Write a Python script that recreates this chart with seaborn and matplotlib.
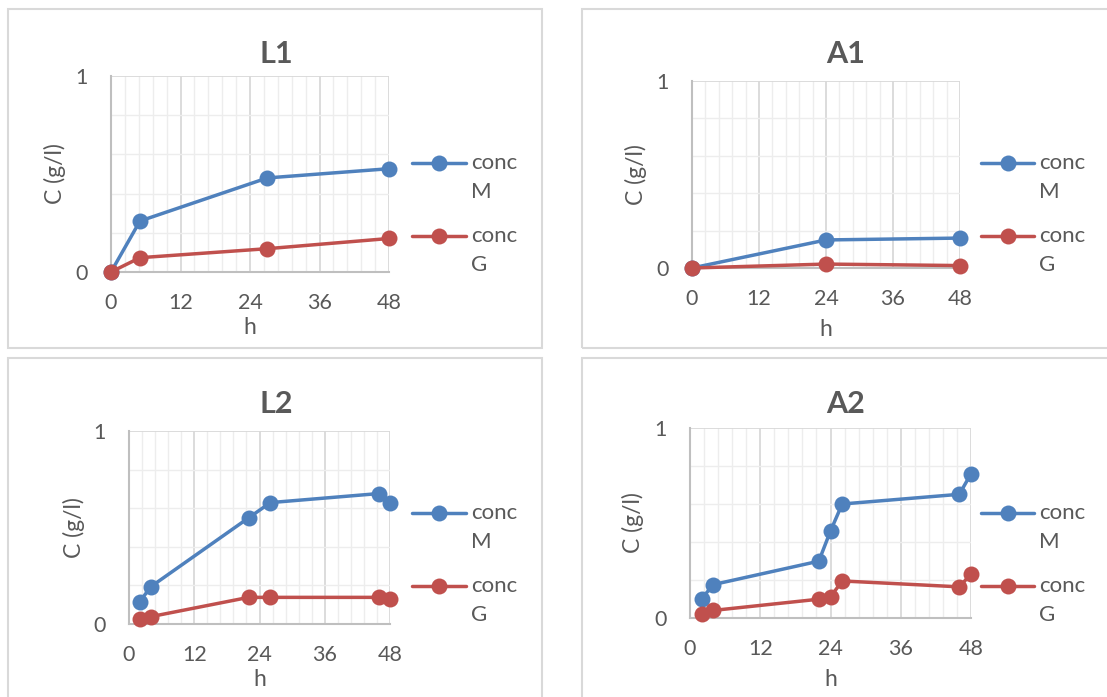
import numpy as np
import pandas as pd
import matplotlib
matplotlib.use("Agg")
import matplotlib.pyplot as plt
from matplotlib.lines import Line2D
from matplotlib.patches import Rectangle
import seaborn as sns

# ---- data ---------------------------------------------------------------
series_names = ["conc M", "conc G"]

l1_h = [0, 5, 27, 48]
l1_m = [0.0, 0.26, 0.48, 0.527]
l1_g = [0.0, 0.073, 0.119, 0.171]

a1_h = [0, 24, 48]
a1_m = [0.0, 0.15, 0.16]
a1_g = [0.0, 0.021, 0.013]

l2_h = [2, 4, 22, 26, 46, 48]
l2_m = [0.116, 0.193, 0.55, 0.629, 0.676, 0.629]
l2_g = [0.024, 0.038, 0.138, 0.138, 0.138, 0.129]

a2_h = [2, 4, 22, 24, 26, 46, 48]
a2_m = [0.102, 0.176, 0.299, 0.458, 0.600, 0.651, 0.759]
a2_g = [0.019, 0.040, 0.099, 0.111, 0.195, 0.164, 0.231]

titles = ["L1", "A1", "L2", "A2"]
x_ticks = [0, 12, 24, 36, 48]
y_ticks = [0, 1]
x_label = "h"
y_label = "C (g/l)"

# ---- style --------------------------------------------------------------
sns.set_style("white")
plt.rcParams["font.family"] = ["Lato", "DejaVu Sans"]

BLUE = "#4F81BD"
RED = "#C0504D"
TEXT = "#595959"
AXIS = "#BFBFBF"
MAJOR_GRID = "#D9D9D9"
MINOR_GRID = "#EDEDED"

TICK_FS = 15.5
LABEL_FS = 16.5
LEGEND_FS = 16
TITLE_FS = 22

W, H = 1107, 697
fig = plt.figure(figsize=(W / 100, H / 100), dpi=100)
fig.patch.set_facecolor("white")


def fx(px):
    return px / W


def fy(py):
    return 1 - py / H


# chart-area frames (left, top, right, bottom in pixels)
frames = [(8, 9, 542, 348), (582, 9, 1120, 348),
          (8, 358, 542, 710), (582, 358, 1120, 710)]
for l, t, r, b in frames:
    fig.add_artist(Rectangle((fx(l), fy(b)), fx(r - l), (b - t) / H,
                             transform=fig.transFigure, fill=False,
                             ec="#D9D9D9", lw=1.5, zorder=0))

panels = [
    dict(h=l1_h, m=l1_m, g=l1_g, box=(111, 389, 76, 272), title_x=276,
         title_y=63, ylab_x=55, xlab_y=328, leg=(412, 466, 471), leg_y=163),
    dict(h=a1_h, m=a1_m, g=a1_g, box=(692, 960, 81, 268), title_x=846,
         title_y=63, ylab_x=636, xlab_y=330, leg=(981, 1034, 1039), leg_y=163),
    dict(h=l2_h, m=l2_m, g=l2_g, box=(129, 390, 431, 624), title_x=276,
         title_y=413, ylab_x=74, xlab_y=680, leg=(412, 466, 471), leg_y=513),
    dict(h=a2_h, m=a2_m, g=a2_g, box=(690, 971, 428, 618), title_x=846,
         title_y=413, ylab_x=633, xlab_y=680, leg=(981, 1034, 1039), leg_y=513),
]

for title, p in zip(titles, panels):
    l, r, t, b = p["box"]
    ax = fig.add_axes([fx(l), fy(b), fx(r - l), (b - t) / H])

    df = pd.DataFrame({
        "h": list(p["h"]) * 2,
        "C": list(p["m"]) + list(p["g"]),
        "series": [series_names[0]] * len(p["h"]) + [series_names[1]] * len(p["h"]),
    })
    sns.lineplot(data=df, x="h", y="C", hue="series", hue_order=series_names,
                 palette=[BLUE, RED], marker="o", markersize=11.5,
                 markeredgewidth=0, linewidth=2.5, estimator=None,
                 legend=False, ax=ax, clip_on=False, zorder=5)

    ax.set_xlim(0, 48)
    ax.set_ylim(0, 1)
    ax.set_xticks(x_ticks)
    ax.set_yticks(y_ticks)
    ax.set_xticks(np.linspace(0, 48, 21), minor=True)
    ax.set_yticks(np.linspace(0, 1, 6), minor=True)
    ax.grid(which="minor", color=MINOR_GRID, lw=1.0, zorder=0)
    ax.grid(which="major", color=MAJOR_GRID, lw=1.3, zorder=0)
    ax.set_axisbelow(True)

    for side in ("top", "right"):
        ax.spines[side].set_visible(False)
    for side in ("left", "bottom"):
        ax.spines[side].set_color(AXIS)
        ax.spines[side].set_linewidth(1.5)

    ax.tick_params(axis="x", which="major", length=8, width=1.5, color=AXIS,
                   labelsize=TICK_FS, labelcolor=TEXT, pad=7)
    ax.tick_params(axis="y", which="major", length=7, width=1.5, color=AXIS,
                   labelsize=TICK_FS, labelcolor=TEXT, pad=10)
    ax.tick_params(which="minor", length=0)

    ax.set_xlabel(x_label, fontsize=LABEL_FS, color=TEXT, va="center", ha="center")
    ax.set_ylabel(y_label, fontsize=LABEL_FS, color=TEXT, va="center", ha="center")
    ax.xaxis.set_label_coords(0.5, (b - p["xlab_y"]) / (b - t))
    ax.yaxis.set_label_coords((p["ylab_x"] - l) / (r - l), 0.5)

    fig.text(fx(p["title_x"]), fy(p["title_y"]), title, fontsize=TITLE_FS,
             fontweight="bold", color=TEXT, ha="center", va="baseline")

    # legend: line sample with marker, name wrapped over two lines
    x1, x2, tx = p["leg"]
    for k, (name, col) in enumerate(zip(series_names, [BLUE, RED])):
        yy = p["leg_y"] + 73 * k
        fig.add_artist(Line2D([fx(x1), fx(x2)], [fy(yy), fy(yy)],
                              transform=fig.transFigure, color=col, lw=2.5))
        fig.add_artist(Line2D([fx((x1 + x2) / 2)], [fy(yy)],
                              transform=fig.transFigure, color=col,
                              marker="o", markersize=11.5, mew=0, ls="none"))
        first, second = name.split(" ")
        fig.text(fx(tx), fy(yy + 6), first, fontsize=LEGEND_FS, color=TEXT,
                 ha="left", va="baseline")
        fig.text(fx(tx), fy(yy + 35), second, fontsize=LEGEND_FS, color=TEXT,
                 ha="left", va="baseline")

fig.savefig("out.png", dpi=100, facecolor="white")
